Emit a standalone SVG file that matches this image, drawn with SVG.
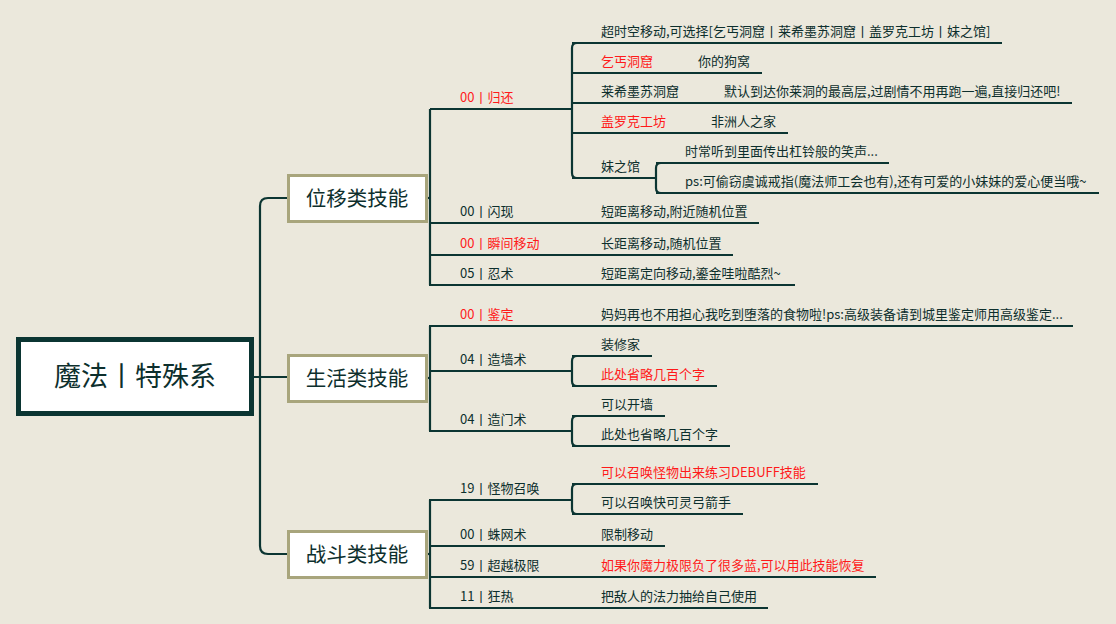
<svg xmlns="http://www.w3.org/2000/svg" width="1116" height="624" viewBox="0 0 1116 624">
<style>
.ln{fill:none;stroke:#0b3532;stroke-width:2.2}
.t{font-family:"Noto Sans CJK SC","Noto Sans",sans-serif;font-size:13px;fill:#0d2f2d}
.r{fill:#ff1a1a}
.l1{font-family:"Noto Sans CJK SC","Noto Sans",sans-serif;font-size:20.5px;fill:#0d2f2d;text-anchor:middle}
.root{font-family:"Noto Sans CJK SC","Noto Sans",sans-serif;font-size:27px;fill:#0d2f2d;text-anchor:middle}
.b1{fill:#ffffff;stroke:#a8a57c;stroke-width:3}
</style>
<rect x="0" y="0" width="1116" height="624" fill="#ebe8dc"/>
<g id="connectors">
<path class="ln" d="M254,377 L287,377"/>
<path class="ln" d="M287,198 L268,198 Q260,198 260,206 L260,546 Q260,554 268,554 L287,554"/>
<!-- group 1 -->
<path class="ln" d="M427,198 L431,198"/>
<path class="ln" d="M430,109 L430,285"/>
<path class="ln" d="M430,109 L572,109"/>
<path class="ln" d="M577,43 Q572,43 572,48 L572,173 Q572,178 577,178"/>
<path class="ln" d="M572,43 L1002,43"/>
<path class="ln" d="M572,73 L762,73"/>
<path class="ln" d="M572,103 L1072,103"/>
<path class="ln" d="M572,133 L788,133"/>
<path class="ln" d="M572,178 L656,178"/>
<path class="ln" d="M661,163 Q656,163 656,168 L656,188 Q656,193 661,193"/>
<path class="ln" d="M656,163 L889,163"/>
<path class="ln" d="M656,193 L1099,193"/>
<path class="ln" d="M430,223 L759,223"/>
<path class="ln" d="M430,255 L733,255"/>
<path class="ln" d="M429,285 L795,285"/>
<!-- group 2 -->
<path class="ln" d="M427,378 L431,378"/>
<path class="ln" d="M430,326 L430,431"/>
<path class="ln" d="M429,326 L1073,326"/>
<path class="ln" d="M430,371 L572,371"/>
<path class="ln" d="M577,356 Q572,356 572,361 L572,381 Q572,386 577,386"/>
<path class="ln" d="M572,356 L652,356"/>
<path class="ln" d="M572,386 L717,386"/>
<path class="ln" d="M429,431 L572,431"/>
<path class="ln" d="M577,416 Q572,416 572,421 L572,441 Q572,446 577,446"/>
<path class="ln" d="M572,416 L665,416"/>
<path class="ln" d="M572,446 L730,446"/>
<!-- group 3 -->
<path class="ln" d="M427,554 L431,554"/>
<path class="ln" d="M430,500 L430,608"/>
<path class="ln" d="M429,500 L572,500"/>
<path class="ln" d="M577,484 Q572,484 572,489 L572,509 Q572,514 577,514"/>
<path class="ln" d="M572,484 L818,484"/>
<path class="ln" d="M572,514 L743,514"/>
<path class="ln" d="M430,546 L665,546"/>
<path class="ln" d="M430,577 L876,577"/>
<path class="ln" d="M429,608 L768,608"/>
</g>
<g id="root">
<rect x="18.5" y="339.5" width="233" height="74" fill="#ffffff" stroke="#0b3532" stroke-width="5"/>
<text class="root" x="135" y="386">魔法丨特殊系</text>
</g>
<g id="n-weiyi">
<rect class="b1" x="288.5" y="175.5" width="138" height="46"/>
<text class="l1" x="357" y="206">位移类技能</text>
</g>
<g id="n-shenghuo">
<rect class="b1" x="288.5" y="355.5" width="138" height="46"/>
<text class="l1" x="357" y="386">生活类技能</text>
</g>
<g id="n-zhandou">
<rect class="b1" x="288.5" y="531.5" width="138" height="46"/>
<text class="l1" x="357" y="562">战斗类技能</text>
</g>
<g id="n-guihuan">
<text class="t r" x="460" y="102">00丨归还</text>
</g>
<g id="n-chaoshikong"><text class="t" x="601" y="36">超时空移动,可选择[乞丐洞窟丨莱希墨苏洞窟丨盖罗克工坊丨妹之馆]</text></g>
<g id="n-qigai"><text class="t r" x="601" y="66">乞丐洞窟</text></g>
<g id="n-gouwo"><text class="t" x="698" y="66">你的狗窝</text></g>
<g id="n-laixi"><text class="t" x="601" y="96">莱希墨苏洞窟</text></g>
<g id="n-laixi-c"><text class="t" x="724" y="96">默认到达你莱洞的最高层,过剧情不用再跑一遍,直接归还吧!</text></g>
<g id="n-gailuoke"><text class="t r" x="601" y="126">盖罗克工坊</text></g>
<g id="n-feizhou"><text class="t" x="711" y="126">非洲人之家</text></g>
<g id="n-meizhiguan"><text class="t" x="601" y="171">妹之馆</text></g>
<g id="n-mei-1"><text class="t" x="685" y="156">时常听到里面传出杠铃般的笑声...</text></g>
<g id="n-mei-2"><text class="t" x="685" y="186">ps:可偷窃虞诚戒指(魔法师工会也有),还有可爱的小妹妹的爱心便当哦~</text></g>
<g id="n-shanxian"><text class="t" x="460" y="216">00丨闪现</text><text class="t" x="601" y="216">短距离移动,附近随机位置</text></g>
<g id="n-shunjian"><text class="t r" x="460" y="248">00丨瞬间移动</text><text class="t" x="601" y="248">长距离移动,随机位置</text></g>
<g id="n-renshu"><text class="t" x="460" y="278">05丨忍术</text><text class="t" x="601" y="278">短距离定向移动,鎏金哇啦酷烈~</text></g>
<g id="n-jianding"><text class="t r" x="460" y="319">00丨鉴定</text><text class="t" x="601" y="319">妈妈再也不用担心我吃到堕落的食物啦!ps:高级装备请到城里鉴定师用高级鉴定...</text></g>
<g id="n-zaoqiang"><text class="t" x="460" y="364">04丨造墙术</text></g>
<g id="n-zhuangxiu"><text class="t" x="601" y="349">装修家</text></g>
<g id="n-shenglue"><text class="t r" x="601" y="379">此处省略几百个字</text></g>
<g id="n-zaomen"><text class="t" x="460" y="424">04丨造门术</text></g>
<g id="n-kaiqiang"><text class="t" x="601" y="409">可以开墙</text></g>
<g id="n-shenglue2"><text class="t" x="601" y="439">此处也省略几百个字</text></g>
<g id="n-guaiwu"><text class="t" x="460" y="493">19丨怪物召唤</text></g>
<g id="n-debuff"><text class="t r" x="601" y="477">可以召唤怪物出来练习DEBUFF技能</text></g>
<g id="n-gongjian"><text class="t" x="601" y="507">可以召唤快可灵弓箭手</text></g>
<g id="n-zhuwang"><text class="t" x="460" y="539">00丨蛛网术</text><text class="t" x="601" y="539">限制移动</text></g>
<g id="n-chaoyue"><text class="t" x="460" y="570">59丨超越极限</text><text class="t r" x="601" y="570">如果你魔力极限负了很多蓝,可以用此技能恢复</text></g>
<g id="n-kuangre"><text class="t" x="460" y="601">11丨狂热</text><text class="t" x="601" y="601">把敌人的法力抽给自己使用</text></g>
</svg>
